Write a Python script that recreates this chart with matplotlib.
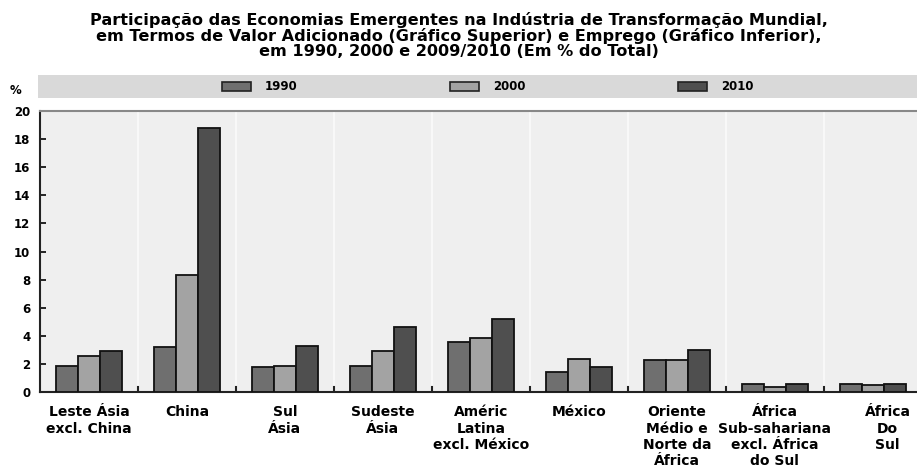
import numpy as np
import matplotlib
matplotlib.use('Agg')
import matplotlib.pyplot as plt
from matplotlib.patches import Rectangle

plt.rcParams['font.family'] = ['DejaVu Sans']

categories = ['Leste Ásia\nexcl. China', 'China', 'Sul\nÁsia', 'Sudeste\nÁsia',
              'Améric\nLatina\nexcl. México', 'México', 'Oriente\nMédio e\nNorte da\nÁfrica',
              'África\nSub-sahariana\nexcl. África\ndo Sul', 'África\nDo\nSul']
years = ['1990', '2000', '2010']
v1990 = [1.85, 3.2, 1.75, 1.85, 3.55, 1.45, 2.25, 0.6, 0.6]
v2000 = [2.55, 8.35, 1.85, 2.95, 3.85, 2.35, 2.25, 0.35, 0.5]
v2010 = [2.95, 18.8, 3.3, 4.65, 5.2, 1.8, 3.0, 0.55, 0.6]
colors = ['#6f6f6f', '#a3a3a3', '#4f4f4f']

fig = plt.figure(figsize=(9.17, 4.72), dpi=100)
ax = fig.add_axes([0.0436, 0.1695, 0.9564, 0.5953])
ax.set_facecolor('#efefef')

x = np.arange(len(categories))
w = 0.227
for i, vals in enumerate([v1990, v2000, v2010]):
    ax.bar(x + (i - 1) * w, vals, w, color=colors[i], edgecolor='#111111', linewidth=1.3, zorder=3)

# faint separators between groups
for s in x[:-1] + 0.5:
    ax.axvline(s, color='#f8f8f8', lw=1.5, zorder=1)
    ax.plot([s, s], [0, 0.35], color='#222222', lw=1.5, zorder=4)

ax.set_xlim(-0.5, 8.45)
ax.set_ylim(0, 20)
ax.set_yticks(range(0, 21, 2))
ax.set_yticklabels([str(t) for t in range(0, 21, 2)], fontsize=8.5, fontweight='bold')
ax.tick_params(axis='y', direction='in', length=4, width=1.2, pad=7)
ax.set_xticks([])
for sp in ['left', 'bottom']:
    ax.spines[sp].set_color('#222222')
    ax.spines[sp].set_linewidth(1.5)
ax.spines['top'].set_color('#888888')
ax.spines['top'].set_linewidth(1.5)
ax.spines['right'].set_visible(False)

for xi, lab in zip(x, categories):
    xl = xi + (0.15 if xi == 8 else 0)
    ax.text(xl, -0.95, lab, ha='center', va='top', fontsize=10, fontweight='bold',
            linespacing=1.2)

fig.text(0.017, 1 - 91 / 472, '%', fontsize=8.5, fontweight='bold', ha='center', va='center')

# legend band
fig.patches.append(Rectangle((38 / 917, 1 - 98 / 472), 1, 23 / 472, transform=fig.transFigure,
                             facecolor='#d9d9d9', edgecolor='none'))
legx = [222, 450, 678]
for lx, yr, c in zip(legx, years, colors):
    fig.patches.append(Rectangle((lx / 917, 1 - 91 / 472), 29 / 917, 9 / 472,
                                 transform=fig.transFigure, facecolor=c, edgecolor='#222222', lw=1.2))
    fig.text((lx + 43) / 917, 1 - 86.5 / 472, yr, fontsize=8.5, fontweight='bold', va='center')

fig.text(0.5, 1 - 36 / 472,
         'Participação das Economias Emergentes na Indústria de Transformação Mundial,\n'
         'em Termos de Valor Adicionado (Gráfico Superior) e Emprego (Gráfico Inferior),\n'
         'em 1990, 2000 e 2009/2010 (Em % do Total)',
         ha='center', va='center', fontsize=11.6, fontweight='bold', linespacing=1.0)

fig.savefig('out.png', dpi=100)
